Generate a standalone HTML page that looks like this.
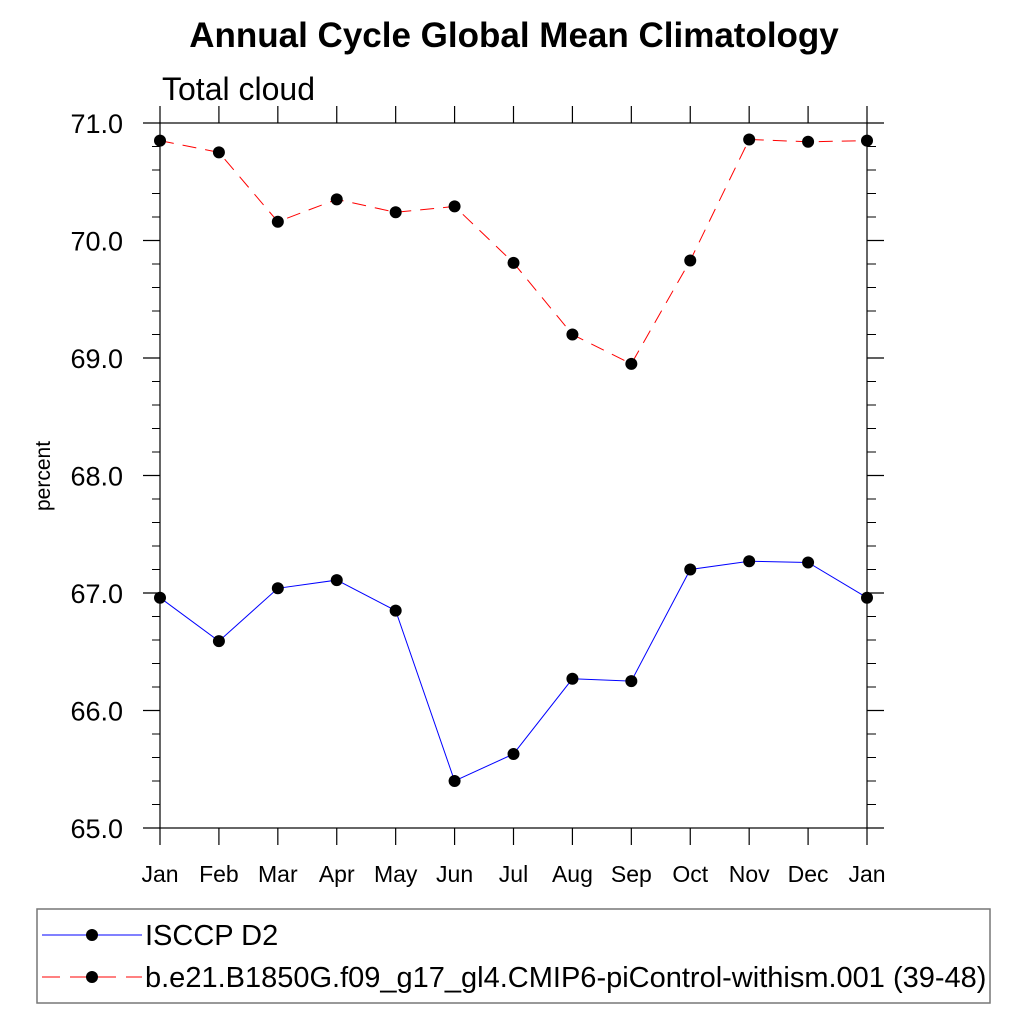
<!DOCTYPE html>
<html><head><meta charset="utf-8"><style>body{margin:0;background:#fff}svg{display:block}text{font-family:"Liberation Sans",sans-serif}</style></head>
<body>
<svg id="c" width="1024" height="1024">
<text x="514" y="47" text-anchor="middle" font-size="35" font-weight="bold">Annual Cycle Global Mean Climatology</text>
<text x="162" y="100" font-size="32">Total cloud</text>
<text transform="translate(50,476) rotate(-90)" text-anchor="middle" font-size="21">percent</text>
<g id="axes"></g><g id="series"></g>
<rect x="37" y="909" width="953" height="94" fill="none" stroke="#777" stroke-width="1.5"/>
<line x1="42" y1="935" x2="142" y2="935" stroke="#00f"/>
<circle cx="92" cy="935" r="6"/>
<text x="145" y="945" font-size="29">ISCCP D2</text>
<line x1="42" y1="977" x2="142" y2="977" stroke="#f00" stroke-dasharray="18,10"/>
<circle cx="92" cy="977" r="6"/>
<text x="145" y="987" font-size="29">b.e21.B1850G.f09_g17_gl4.CMIP6-piControl-withism.001 (39-48)</text>
</svg>
<script>
const months=["Jan","Feb","Mar","Apr","May","Jun","Jul","Aug","Sep","Oct","Nov","Dec","Jan"];
const obsValues=[66.96,66.59,67.04,67.11,66.85,65.40,65.63,66.27,66.25,67.20,67.27,67.26,66.96];
const modelValues=[70.85,70.75,70.16,70.35,70.24,70.29,69.81,69.20,68.95,69.83,70.86,70.84,70.85];
const yTicks=[65,66,67,68,69,70,71];
const NS="http://www.w3.org/2000/svg";
const L=160,R=867,T=123,B=828,ymin=65,ymax=71;
const xs=i=>L+(R-L)*i/(months.length-1);
const ys=v=>B-(v-ymin)/(ymax-ymin)*(B-T);
function mk(tag,attrs,parent){const e=document.createElementNS(NS,tag);for(const k in attrs)e.setAttribute(k,attrs[k]);parent.appendChild(e);return e;}
const ax=document.getElementById('axes'),sr=document.getElementById('series');
let f=mk('rect',{x:L,y:T,width:R-L,height:B-T,fill:'none',stroke:'#000','stroke-width':1.2},ax);


yTicks.forEach(v=>{const y=ys(v);
 let t=mk('line',{x1:L-17,x2:L,y1:y,y2:y,stroke:'#000','stroke-width':1.2},ax);
 
 
 mk('line',{x1:R,x2:R+17,y1:y,y2:y,stroke:'#000','stroke-width':1.2},ax);
 let l=mk('text',{x:L-37,y:y+10,'text-anchor':'end','font-size':27},ax);l.textContent=v.toFixed(1);
 
 
});
for(let v=ymin;v<ymax-0.01;v+=0.2){if(Math.abs(v-Math.round(v))<0.01)continue;const y=ys(v);
 mk('line',{x1:L-8,x2:L,y1:y,y2:y,stroke:'#000'},ax);mk('line',{x1:R,x2:R+9,y1:y,y2:y,stroke:'#000'},ax);}
months.forEach((m,i)=>{const x=xs(i);
 mk('line',{x1:x,x2:x,y1:B,y2:B+17,stroke:'#000','stroke-width':1.2},ax);
 mk('line',{x1:x,x2:x,y1:T-17,y2:T,stroke:'#000','stroke-width':1.2},ax);
 let l=mk('text',{x:x,y:B+54,'text-anchor':'middle','font-size':23},ax);l.textContent=m;
 
 
});
function series(vals,color,dash,name){
 let p=mk('polyline',{points:vals.map((v,i)=>xs(i)+','+ys(v)).join(' '),fill:'none',stroke:color,'stroke-width':1,'stroke-dasharray':dash},sr);
 
 
 vals.forEach((v,i)=>{let c=mk('circle',{cx:xs(i),cy:ys(v),r:6,fill:'#000'},sr);
  
  });
}
series(modelValues,'#f00','14,9','model');
series(obsValues,'#00f','none','isccp');
</script>
</body></html>
